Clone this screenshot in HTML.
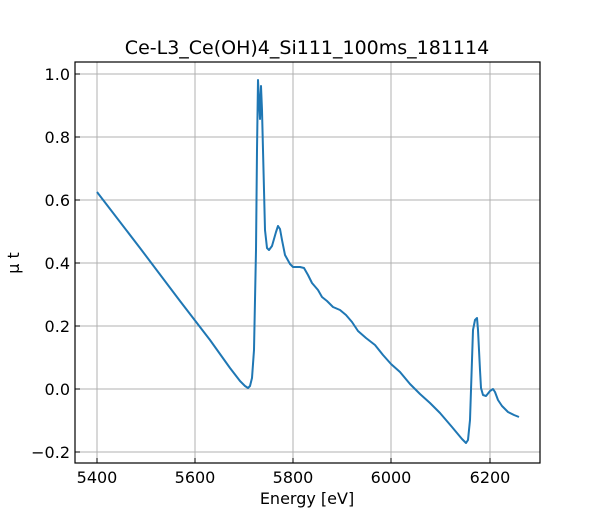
<!DOCTYPE html>
<html><head><style>body{margin:0;background:#fff}svg{display:block}text{font-family:"DejaVu Sans","Liberation Sans",sans-serif}</style></head>
<body>
<svg width="600" height="520" xmlns="http://www.w3.org/2000/svg">
<rect width="600" height="520" fill="#fff"/>
<g stroke="#b0b0b0" stroke-width="1">
<line x1="97" y1="62" x2="97" y2="463"/><line x1="195" y1="62" x2="195" y2="463"/><line x1="293" y1="62" x2="293" y2="463"/><line x1="391" y1="62" x2="391" y2="463"/><line x1="490" y1="62" x2="490" y2="463"/>
<line x1="75" y1="74" x2="540" y2="74"/><line x1="75" y1="137" x2="540" y2="137"/><line x1="75" y1="200" x2="540" y2="200"/><line x1="75" y1="263" x2="540" y2="263"/><line x1="75" y1="326" x2="540" y2="326"/><line x1="75" y1="389" x2="540" y2="389"/><line x1="75" y1="452" x2="540" y2="452"/>
</g>
<polyline fill="none" stroke="#1f77b4" stroke-width="2" stroke-linejoin="round" points="97,192 140,248 180,301 210,340 230,368 240,381 245,386 248,388 250,386 252,378 254,350 256,250 257,150 258,80 259,100 260,119 261,86 262,110 263,150 265,230 267,248 269,250 272,246 276,232 278,226 280,229 282,240 285,255 290,264 293,267 300,267 304,268 308,275 312,283 318,290 322,297 327,301 333,307 340,310 346,315 352,322 358,331 366,338 375,345 383,355 391,364 400,372 410,384 420,394 430,403 440,413 452,427 462,439 466,443 468,440 470,420 471,390 473,330 475,320 477,318 478,330 480,370 481,388 483,395 486,396 490,391 493,389 495,392 498,400 502,406 508,412 514,415 519,417"/>
<rect x="75" y="62" width="465" height="401" fill="none" stroke="#000" stroke-width="1.2"/>
<g stroke="#000" stroke-width="1">
<line x1="97" y1="463" x2="97" y2="458"/><line x1="195" y1="463" x2="195" y2="458"/><line x1="293" y1="463" x2="293" y2="458"/><line x1="391" y1="463" x2="391" y2="458"/><line x1="490" y1="463" x2="490" y2="458"/>
<line x1="75" y1="74" x2="80" y2="74"/><line x1="75" y1="137" x2="80" y2="137"/><line x1="75" y1="200" x2="80" y2="200"/><line x1="75" y1="263" x2="80" y2="263"/><line x1="75" y1="326" x2="80" y2="326"/><line x1="75" y1="389" x2="80" y2="389"/><line x1="75" y1="452" x2="80" y2="452"/>
</g>
<g font-size="16" fill="#000" text-anchor="middle">
<text x="97" y="483">5400</text><text x="195" y="483">5600</text><text x="293" y="483">5800</text><text x="391" y="483">6000</text><text x="490" y="483">6200</text>
</g>
<g font-size="16" fill="#000" text-anchor="end">
<text x="70" y="80">1.0</text><text x="70" y="143">0.8</text><text x="70" y="206">0.6</text><text x="70" y="269">0.4</text><text x="70" y="332">0.2</text><text x="70" y="395">0.0</text><text x="70" y="458">−0.2</text>
</g>
<text x="307" y="504" font-size="16" text-anchor="middle">Energy [eV]</text>
<text transform="translate(19,263) rotate(-90)" font-size="16" text-anchor="middle">μ t</text>
<text x="307" y="54" font-size="19" text-anchor="middle">Ce-L3_Ce(OH)4_Si111_100ms_181114</text>
</svg>
</body></html>
